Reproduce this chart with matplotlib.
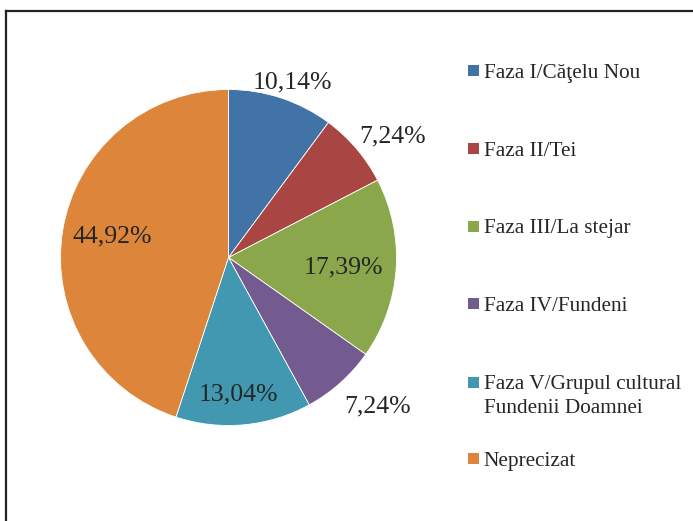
import numpy as np
import matplotlib
matplotlib.use("Agg")
import matplotlib.pyplot as plt
from matplotlib.lines import Line2D
from matplotlib.patches import Rectangle

categories = ["Faza I/Căţelu Nou", "Faza II/Tei", "Faza III/La stejar",
              "Faza IV/Fundeni", "Faza V/Grupul cultural\nFundenii Doamnei",
              "Neprecizat"]
values = [10.14, 7.24, 17.39, 7.24, 13.04, 44.92]
labels = ["10,14%", "7,24%", "17,39%", "7,24%", "13,04%", "44,92%"]
colors = ["#4173A7", "#A94643", "#8AA74C", "#735A8F", "#4198B0", "#DC853B"]
label_dist = [1.12, 1.224, 0.683, 1.246, 0.803, 0.706]
label_dang = [1.7, 3.6, 0.3, -3.8, 1.0, 1.9]  # clockwise shift, degrees

plt.rcParams['font.family'] = ['Liberation Serif', 'DejaVu Serif']
W, H = 693, 521
fig = plt.figure(figsize=(W / 100, H / 100), dpi=100)
ax = fig.add_axes([0, 0, 1, 1])
cx, cy, R = 228.5, H - 257.5, 168
wedges, _ = ax.pie(values, colors=colors, startangle=90, counterclock=False,
                   center=(cx, cy), radius=R,
                   wedgeprops=dict(linewidth=0.6, edgecolor="white"))
ax.set_xlim(0, W)
ax.set_ylim(0, H)
ax.set_aspect("auto")
ax.axis("off")

for w, lab, d, da in zip(wedges, labels, label_dist, label_dang):
    ang = np.deg2rad((w.theta1 + w.theta2) / 2 - da)
    x = cx + d * R * np.cos(ang)
    y = cy + d * R * np.sin(ang)
    ax.text(x, y - 8, lab, ha="center", va="baseline", fontsize=18.5,
            color="#262626")

# legend
leg_y = [70.5, 148, 226, 303.5, 382, 458.5]
line_gap = 23.4
for cat, col, y in zip(categories, colors, leg_y):
    yy = H - y
    ax.add_patch(Rectangle((468, yy - 5.5), 11, 11, facecolor=col, edgecolor="none"))
    for i, line in enumerate(cat.split("\n")):
        ax.text(483.5, yy - 7.5 - i * line_gap, line, ha="left", va="baseline",
                fontsize=15.3, color="#262626")

# frame (top and left only)
fig.add_artist(Line2D([6 / W, 1], [1 - 10.5 / H, 1 - 10.5 / H], color="#222222", lw=1.6,
                      transform=fig.transFigure))
fig.add_artist(Line2D([6 / W, 6 / W], [0, 1 - 10.5 / H], color="#222222", lw=1.6,
                      transform=fig.transFigure))

fig.savefig("out.png", dpi=100, facecolor="white")
